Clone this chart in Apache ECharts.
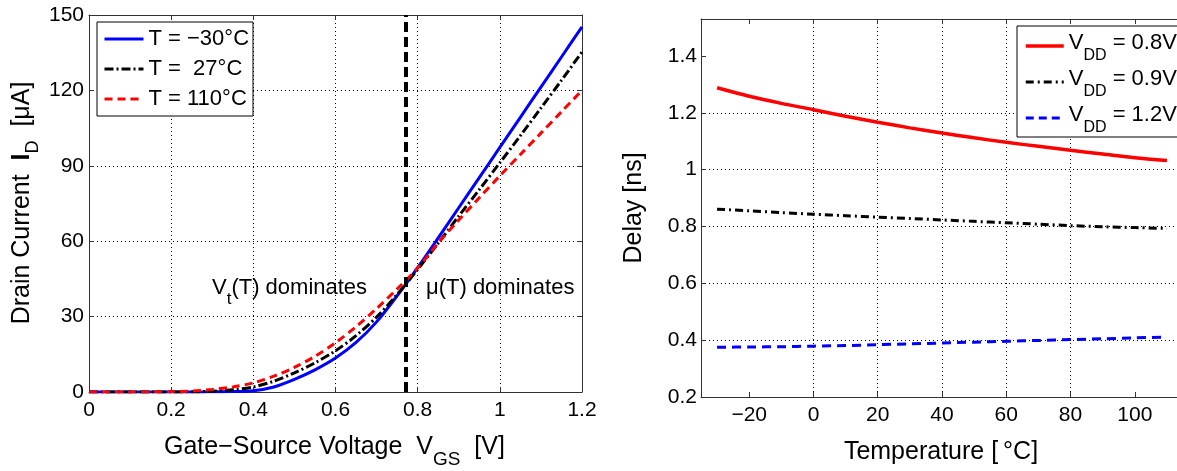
<!DOCTYPE html>
<html>
<head>
<meta charset="utf-8">
<script src="https://cdn.jsdelivr.net/npm/echarts@6/dist/echarts.min.js"></script>
<style>
  html, body { margin: 0; padding: 0; background: #fff; }
  #main { width: 1177px; height: 471px; }
</style>
</head>
<body>
<div id="main"></div>
<script>
// left panel: drain current [uA] vs gate-source voltage [V]
const vgs = [0, 0.05, 0.1, 0.15, 0.2, 0.25, 0.3, 0.35, 0.4, 0.45, 0.5, 0.55, 0.6,
  0.65, 0.7, 0.75, 0.8, 0.85, 0.9, 0.95, 1.0, 1.05, 1.1, 1.15, 1.2];
const idCold = [0, 0, 0, 0, 0, 0, 0.05, 0.15, 0.5, 2.0, 5.0, 8.8, 13.5,
  19.7, 27.9, 38.3, 49.5, 61.3, 73.3, 85.3, 97.3, 109.3, 121.3, 133.3, 145.3];
const idRoom = [0, 0, 0, 0, 0, 0.05, 0.3, 0.9, 2.0, 4.3, 7.6, 11.6, 16.4,
  22.4, 29.8, 38.8, 48.8, 59.2, 70.0, 80.5, 91.2, 102.0, 113.0, 124.0, 135.3];
const idHot = [0, 0, 0, 0.05, 0.15, 0.4, 1.0, 2.0, 3.6, 6.3, 9.8, 14.2, 19.6,
  26.0, 33.2, 41.0, 49.3, 59.3, 68.4, 77.3, 86.0, 94.5, 103.0, 111.5, 120.0];
const tempNamesLeft = ['T = \u221230\u00b0C', 'T =  27\u00b0C', 'T = 110\u00b0C'];
const vCross = 0.77;

// right panel: delay [ns] vs temperature [C]
const temps = [-30, -20, -10, 0, 10, 20, 30, 40, 50, 60, 70, 80, 90, 100, 110];
const delay08 = [1.288, 1.258, 1.233, 1.211, 1.188, 1.167, 1.147, 1.129, 1.112,
  1.096, 1.082, 1.068, 1.055, 1.042, 1.032];
const delay09 = [0.861, 0.855, 0.849, 0.843, 0.838, 0.833, 0.828, 0.823, 0.818,
  0.813, 0.808, 0.803, 0.799, 0.796, 0.793];
const delay12 = [0.375, 0.376, 0.377, 0.379, 0.381, 0.384, 0.387, 0.390, 0.393,
  0.396, 0.399, 0.402, 0.405, 0.408, 0.411];
const vddNames = ['0.8V', '0.9V', '1.2V'];
const tempTicks = [-20, 0, 20, 40, 60, 80, 100];
const delayTicks = [0.2, 0.4, 0.6, 0.8, 1, 1.2, 1.4];

const font = '"Liberation Sans", Arial, sans-serif';
const axisColor = '#333';
const dots = { color: '#000', width: 1, type: [1, 3] };
const noSymbol = { opacity: 0, color: 'rgba(0,0,0,0)', borderWidth: 0 };

const pairs = (xs, ys) => xs.map((x, i) => [x, ys[i]]);
const minus = v => String(v).replace('-', '\u2212');

const chart = echarts.init(document.getElementById('main'));

const labelStyle = { fontSize: 21, color: '#000', fontFamily: font };
const frameLine = { show: true, onZero: false, lineStyle: { color: axisColor } };

const option = {
  animation: false,
  backgroundColor: '#fff',
  grid: [
    { left: 89, top: 15, right: 595, bottom: 79, containLabel: false, outerBoundsMode: 'none' },
    { left: 701, top: 19, right: -6, bottom: 74, containLabel: false, outerBoundsMode: 'none' }
  ],
  xAxis: [
    {
      gridIndex: 0, type: 'value', min: 0, max: 1.2, interval: 0.2, position: 'bottom',
      axisLine: frameLine,
      axisTick: { inside: true, length: 5, lineStyle: { color: axisColor } },
      axisLabel: Object.assign({ margin: 8 }, labelStyle),
      splitLine: { show: true, showMinLine: false, showMaxLine: false, lineStyle: dots }
    },
    {
      gridIndex: 0, type: 'value', min: 0, max: 1.2, interval: 0.2, position: 'top',
      axisLine: frameLine,
      axisTick: { inside: true, length: 5, lineStyle: { color: axisColor } },
      axisLabel: { show: false }, splitLine: { show: false }
    },
    {
      gridIndex: 1, type: 'value', min: -35, max: 115, position: 'bottom',
      axisLine: frameLine,
      axisTick: { inside: true, length: 5, customValues: tempTicks, lineStyle: { color: axisColor } },
      axisLabel: Object.assign({ margin: 8, customValues: tempTicks, formatter: minus }, labelStyle),
      splitLine: { show: true, showMinLine: false, showMaxLine: false, lineStyle: dots }
    },
    {
      gridIndex: 1, type: 'value', min: -35, max: 115, position: 'top',
      axisLine: frameLine,
      axisTick: { inside: true, length: 5, customValues: tempTicks, lineStyle: { color: axisColor } },
      axisLabel: { show: false }, splitLine: { show: false }
    }
  ],
  yAxis: [
    {
      gridIndex: 0, type: 'value', min: 0, max: 150, interval: 30, position: 'left',
      axisLine: frameLine,
      axisTick: { show: true, inside: true, length: 5, lineStyle: { color: axisColor } },
      axisLabel: Object.assign({ margin: 5 }, labelStyle),
      splitLine: { show: true, showMinLine: false, showMaxLine: false, lineStyle: dots }
    },
    {
      gridIndex: 0, type: 'value', min: 0, max: 150, interval: 30, position: 'right',
      axisLine: frameLine,
      axisTick: { show: true, inside: true, length: 5, lineStyle: { color: axisColor } },
      axisLabel: { show: false }, splitLine: { show: false }
    },
    {
      gridIndex: 1, type: 'value', min: 0.2, max: 1.53, position: 'left',
      axisLine: frameLine,
      axisTick: { show: true, inside: true, length: 5, customValues: delayTicks, lineStyle: { color: axisColor } },
      axisLabel: Object.assign({ margin: 4, customValues: delayTicks }, labelStyle),
      splitLine: { show: true, showMinLine: false, showMaxLine: false, lineStyle: dots }
    }
  ],
  legend: [
    {
      left: 97, top: 22, orient: 'vertical',
      data: [
        { name: tempNamesLeft[0], itemStyle: noSymbol, lineStyle: { width: 3, type: 'solid' } },
        { name: tempNamesLeft[1], itemStyle: noSymbol, lineStyle: { width: 3, type: [9, 3, 2, 3] } },
        { name: tempNamesLeft[2], itemStyle: noSymbol, lineStyle: { width: 3, type: [8, 5] } }
      ],
      itemWidth: 39, itemHeight: 14, itemGap: 6,
      padding: [5, 4, 5, 6],
      borderColor: '#000', borderWidth: 1, backgroundColor: '#fff',
      textStyle: { fontSize: 22, lineHeight: 24, color: '#000', fontFamily: font }
    },
    {
      left: 1017, top: 26, orient: 'vertical',
      data: [
        { name: vddNames[0], itemStyle: noSymbol, lineStyle: { width: 3.5, type: 'solid' } },
        { name: vddNames[1], itemStyle: noSymbol, lineStyle: { width: 3, type: [8, 4, 2, 4] } },
        { name: vddNames[2], itemStyle: noSymbol, lineStyle: { width: 3, type: [8, 5] } }
      ],
      itemWidth: 38, itemHeight: 14, itemGap: 0,
      padding: [2, 8, 1, 7],
      borderColor: '#000', borderWidth: 1, backgroundColor: '#fff',
      formatter: n => '{v|V}{s|DD}{t| = ' + n + '}',
      textStyle: {
        color: '#000', fontFamily: font,
        rich: {
          v: { fontSize: 22, lineHeight: 22, padding: [0, 0, 7, 0], fontFamily: font, color: '#000' },
          t: { fontSize: 22, lineHeight: 22, padding: [0, 0, 7, 0], fontFamily: font, color: '#000' },
          s: { fontSize: 16, lineHeight: 16, padding: [20, 0, 0, 0], fontFamily: font, color: '#000' }
        }
      }
    }
  ],
  series: [
    {
      name: tempNamesLeft[0], type: 'line', xAxisIndex: 0, yAxisIndex: 0,
      data: pairs(vgs, idCold), showSymbol: false, symbol: 'none', smooth: 0.3,
      lineStyle: { color: '#0000ff', width: 3 }, itemStyle: { color: '#0000ff' },
      markLine: {
        silent: true, symbol: ['none', 'none'], label: { show: false },
        lineStyle: { color: '#000', width: 4, type: [10, 5] },
        data: [{ xAxis: vCross }]
      }
    },
    {
      name: tempNamesLeft[1], type: 'line', xAxisIndex: 0, yAxisIndex: 0,
      data: pairs(vgs, idRoom), showSymbol: false, symbol: 'none', smooth: 0.3,
      lineStyle: { color: '#000', width: 3, type: [9, 3, 2, 3] }, itemStyle: { color: '#000' }
    },
    {
      name: tempNamesLeft[2], type: 'line', xAxisIndex: 0, yAxisIndex: 0,
      data: pairs(vgs, idHot), showSymbol: false, symbol: 'none', smooth: 0.3,
      lineStyle: { color: '#ff0000', width: 3, type: [8, 5] }, itemStyle: { color: '#ff0000' }
    },
    {
      name: vddNames[0], type: 'line', xAxisIndex: 2, yAxisIndex: 2,
      data: pairs(temps, delay08), showSymbol: false, symbol: 'none', smooth: 0.3,
      lineStyle: { color: '#ff0000', width: 3.5 }, itemStyle: { color: '#ff0000' }
    },
    {
      name: vddNames[1], type: 'line', xAxisIndex: 2, yAxisIndex: 2,
      data: pairs(temps, delay09), showSymbol: false, symbol: 'none', smooth: 0.3,
      lineStyle: { color: '#000', width: 3, type: [8, 4, 2, 4] }, itemStyle: { color: '#000' }
    },
    {
      name: vddNames[2], type: 'line', xAxisIndex: 2, yAxisIndex: 2,
      data: pairs(temps, delay12), showSymbol: false, symbol: 'none', smooth: 0.3,
      lineStyle: { color: '#0000ff', width: 3, type: [9, 6] }, itemStyle: { color: '#0000ff' }
    }
  ],
  graphic: [
    // axis titles
    {
      type: 'text', x: 22, y: 203, rotation: Math.PI / 2,
      style: {
        text: '{a|Drain Current  }{b|I}{s|D}{a|  [\u03bcA]}',
        align: 'center', verticalAlign: 'middle', textAlign: 'center', textVerticalAlign: 'middle',
        rich: {
          a: { fontSize: 25, fontFamily: font, fill: '#000' },
          b: { fontSize: 25, fontWeight: 'bold', fontFamily: font, fill: '#000' },
          s: { fontSize: 18, padding: [22, 0, 0, 0], fontFamily: font, fill: '#000' }
        }
      }
    },
    {
      type: 'text', x: 164, y: 447,
      style: {
        text: '{a|Gate\u2212Source Voltage  V}{s|GS}{a|  [V]}',
        align: 'left', verticalAlign: 'middle', textAlign: 'left', textVerticalAlign: 'middle',
        rich: {
          a: { fontSize: 25, fontFamily: font, fill: '#000' },
          s: { fontSize: 19, padding: [26, 0, 0, 0], fontFamily: font, fill: '#000' }
        }
      }
    },
    {
      type: 'text', x: 634, y: 208, rotation: Math.PI / 2,
      style: {
        text: 'Delay [ns]', font: '25px ' + font, fill: '#000',
        align: 'center', verticalAlign: 'middle', textAlign: 'center', textVerticalAlign: 'middle'
      }
    },
    {
      type: 'text', x: 941, y: 452,
      style: {
        text: 'Temperature [\u2009\u00b0C]', font: '25px ' + font, fill: '#000',
        align: 'center', verticalAlign: 'middle', textAlign: 'center', textVerticalAlign: 'middle'
      }
    },
    // region annotations
    {
      type: 'text', x: 212, y: 288,
      style: {
        text: '{a|V}{s|t}{a|(T) dominates}',
        align: 'left', verticalAlign: 'middle', textAlign: 'left', textVerticalAlign: 'middle',
        rich: {
          a: { fontSize: 22, fontFamily: font, fill: '#000' },
          s: { fontSize: 17, padding: [22, 0, 0, 0], fontFamily: font, fill: '#000' }
        }
      }
    },
    {
      type: 'text', x: 426, y: 288,
      style: {
        text: '\u03bc(T) dominates', font: '22px ' + font, fill: '#000',
        align: 'left', verticalAlign: 'middle', textAlign: 'left', textVerticalAlign: 'middle'
      }
    }
  ]
};

chart.setOption(option);
</script>
</body>
</html>
